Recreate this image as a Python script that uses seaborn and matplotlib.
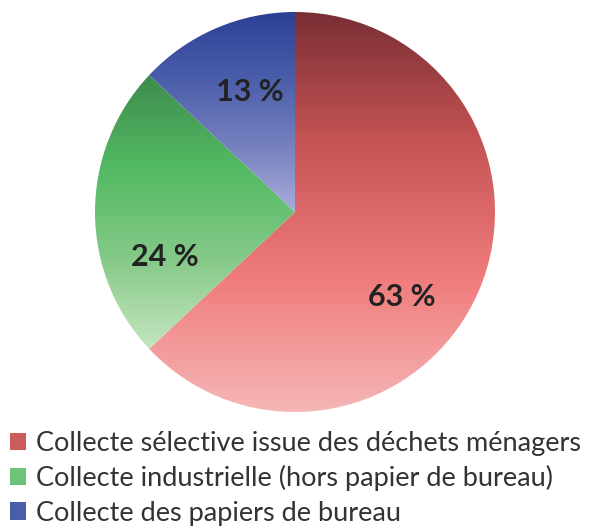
import numpy as np
import matplotlib
matplotlib.use('Agg')
import matplotlib.pyplot as plt
import seaborn as sns
from matplotlib.patches import Patch
from matplotlib.colors import LinearSegmentedColormap

# --- données ---
categories = ['Collecte sélective issue des déchets ménagers',
              'Collecte industrielle (hors papier de bureau)',
              'Collecte des papiers de bureau']
parts = [63, 24, 13]
labels_pct = ['63 %', '24 %', '13 %']

# couleurs de la légende et dégradés (haut -> bas) de chaque part
legend_colors = ['#cd5c5c', '#6cc479', '#4a5ea8']
gradients = [
    ['#7a2e34', '#c85556', '#f07c7c', '#f6b6b6'],
    ['#3f8c4e', '#52b962', '#84c987', '#c6e5c0'],
    ['#2c3f95', '#4b5eaa', '#7680be', '#a9acdc'],
]
label_pos = [(0.535, -0.425), (-0.65, -0.225), (-0.225, 0.60)]

sns.set_theme(style='white')
plt.rcParams['font.family'] = ['Lato', 'DejaVu Sans']

fig = plt.figure(figsize=(6.01, 5.29), dpi=100)
ax = fig.add_axes([0, 0, 1, 1])

cx, cy, r = 295, 529 - 212, 200
wedges, _ = ax.pie(parts, center=(cx, cy), radius=r, startangle=90,
                   counterclock=False, colors=legend_colors,
                   wedgeprops=dict(linewidth=0), frame=True)

# dégradé vertical découpé sur chaque part
for w, grad in zip(wedges, gradients):
    bb = w.get_path().get_extents(w.get_patch_transform())
    cmap = LinearSegmentedColormap.from_list('g', grad)
    img = np.linspace(0, 1, 256).reshape(-1, 1)
    im = ax.imshow(img, cmap=cmap, aspect='auto', origin='upper',
                   extent=[bb.x0, bb.x1, bb.y0, bb.y1], zorder=2)
    im.set_clip_path(w)
    w.set_facecolor('none')

for (dx, dy), txt in zip(label_pos, labels_pct):
    ax.text(cx + dx * r, cy + dy * r, txt, ha='center', va='center',
            fontsize=22, fontweight='bold', color='#222222', zorder=3)

ax.set_xlim(0, 601)
ax.set_ylim(0, 529)
ax.axis('off')

handles = [Patch(facecolor=c, edgecolor='none') for c in legend_colors]
leg = fig.legend(handles, categories, loc='upper left',
                 bbox_to_anchor=(10 / 601, 1 - 431 / 529), frameon=False,
                 fontsize=19.5, handlelength=0.6, handleheight=0.6,
                 handletextpad=0.37, labelspacing=0.34, borderaxespad=0,
                 borderpad=0)
for t in leg.get_texts():
    t.set_color('#333333')

fig.savefig('out.png', dpi=100)
